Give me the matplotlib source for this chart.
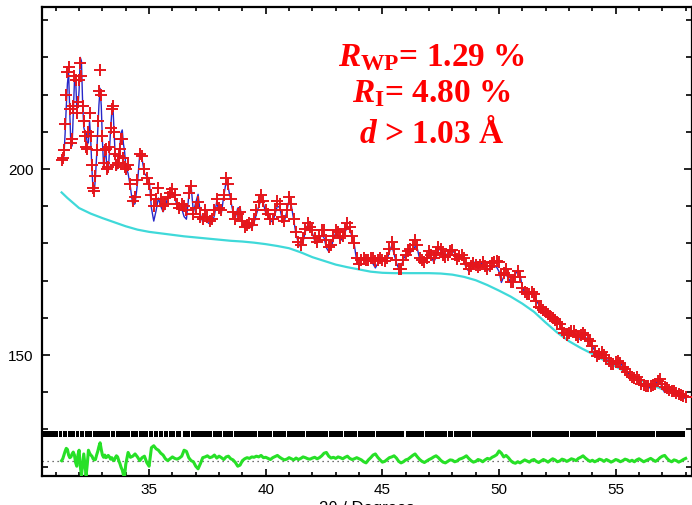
import numpy as np
import matplotlib
matplotlib.use("Agg")
import matplotlib.pyplot as plt
from matplotlib.ticker import MultipleLocator

plt.rcParams["font.family"] = ["Liberation Sans", "DejaVu Sans"]
plt.rcParams["mathtext.fontset"] = "custom"
plt.rcParams["mathtext.rm"] = "Liberation Serif:bold"
plt.rcParams["mathtext.bf"] = "Liberation Serif:bold"
plt.rcParams["mathtext.it"] = "Liberation Serif:italic:bold"

# --- scan grid (fine steps over the sharp low-angle peaks) ---
two_theta = np.concatenate([np.linspace(31.25, 33.95, 55),
                            np.linspace(34.0, 58.0, 241)])

# observed counts
y_obs = [
    202.5, 203, 205, 212, 220, 226, 227.5, 216, 207, 208,
    217, 225, 224, 215, 218, 224, 228.5, 225, 217, 213,
    209, 206, 205.5, 210, 215, 209, 201, 195, 194, 198,
    205, 213, 221, 226.5, 220, 209, 201.5, 205, 205.5, 200,
    200.5, 206, 211, 216, 217, 210, 204, 201, 201.5, 203.5,
    205.5, 208, 208, 203, 200.5,
    # 34.0 - 58.0
    200, 201, 196, 191.5, 192.5, 197, 204, 203.5, 200, 197.5,
    196, 193, 190, 192, 195, 192, 190, 190.5, 192.5, 193.5,
    194.5, 193, 190.5, 189.5, 190.5, 190, 189, 193.5, 195.5, 188,
    189.5, 191, 187, 186.5, 189, 187, 186, 186.5, 189, 192,
    189.5, 189, 193, 197.5, 196, 192, 188.5, 186.5, 188, 188.5,
    186, 184.5, 185, 185.5, 185, 186.5, 189, 191, 193, 191.5,
    189, 188, 186.5, 186.5, 189, 191.5, 190.5, 187, 186, 189,
    192.5, 190.5, 186.5, 183, 180.5, 179.5, 181.5, 184, 185.5, 184.5,
    183.5, 181.5, 180.5, 182, 183.5, 183.5, 181, 179, 179.5, 182,
    183.5, 183, 181.5, 182, 184, 185.5, 184.5, 182, 180, 176,
    174.5, 175.5, 176, 175.5, 175.5, 176, 176, 175.2, 175.5, 176.2,
    175.5, 175.2, 176, 178.5, 180.5, 178.5, 175.5, 173, 173, 175.5,
    177, 178, 178.5, 179.5, 181, 179.5, 176, 175.5, 175, 176,
    178, 177, 176, 177.5, 179, 178.5, 177, 176.3, 177, 178,
    178.3, 177, 175.8, 176.5, 177, 176, 174.5, 173.2, 174, 174.8,
    174.2, 173.6, 174.2, 174.9, 174, 173.2, 173.8, 174.6, 175, 175.2,
    175, 171.5, 172, 173, 171.5, 169.5, 169.5, 171, 172.5, 171,
    168, 167, 166.3, 166.5, 167, 166.5, 164.5, 163, 162.5, 162,
    161.5, 161, 160.5, 160, 159.5, 158.8, 158.2, 157, 155.8, 155.3,
    155.8, 156.5, 156.5, 155.5, 154.8, 155.3, 156, 155.5, 154.3, 153.7,
    152.5, 150.8, 149.8, 150.2, 150.7, 150, 149.2, 148.3, 147.6, 147.5,
    148, 148.5, 147.8, 146.8, 146.2, 145.5, 144.6, 144, 143.9, 144.1,
    143.2, 142.3, 142, 141.7, 141.6, 141.7, 141.9, 142.3, 143, 143.5,
    142.3, 141.3, 141, 140.6, 140.4, 140.2, 139.9, 139.6, 139.3, 139,
    138.8,
]

# difference (observed - calculated)
y_diff = [
    0, 0.5, 1.5, 2.5, 3.3, 3.0, 1.5, 0.8, 1.0, 1.8,
    2.3, 1.5, -0.5, -1.5, 1.5, 2.8, -1.5, -4.0, -1.0, 1.8,
    -1.0, -4.0, -1.0, 2.8, 2.0, 1.5, 1.2, 0.5, 0.2, 0.3,
    1.5, 2.5, 3.8, 4.8, 3.0, 1.5, 0.9, 1.5, 0.8, 1.0,
    1.4, 1.0, 0.4, 0.8, 0.2, 0.0, 0.8, 1.3, 1.0, 0.0,
    -0.8, -1.8, -2.5, -3.8, -4.2,
    # 34.0 - 58.0
    -1.0, 2.2, 0.9, 1.2, 1.8, 1.0, 0.0, 0.8, 1.2, -0.5,
    -1.5, 3.5, 4.0, 3.2, 2.8, 2.0, 1.5, 0.5, 0.0, 0.5,
    1.0, 0.6, 0.4, 0.7, 1.2, 2.8, 2.5, 0.8, 0.0, -0.3,
    -1.5, -2.2, -0.8, 0.8, 1.0, 1.3, 0.8, 1.0, 1.5, 0.7,
    1.2, 0.8, 0.3, 1.0, 1.2, 0.5, 0.2, -0.5, -1.5, -1.2,
    0.0, 0.5, 0.8, 0.6, 1.0, 0.9, 1.2, 1.0, 1.4, 0.8,
    0.9, 0.6, 0.3, 0.8, 1.1, 1.4, 0.9, 0.5, 0.2, 0.4,
    0.8, 0.5, 0.2, 0.7, 0.3, 0.6, 1.0, 0.8, 0.5, 0.4,
    0.7, 0.9, 0.5, 0.8, 1.3, 2.0, 2.2, 1.2, 0.7, 0.9,
    0.6, 1.0, 0.8, 0.5, 0.9, 1.2, 0.6, 0.3, 0.5, 0.8,
    0.5, 0.2, -0.3, -0.6, 0.2, 0.8, 1.5, 1.8, 0.9, 0.2,
    -0.4, -0.2, 0.3, 0.8, 1.0, 1.3, 0.7, -0.2, -0.6, -0.3,
    0.2, 0.4, 0.9, 1.4, 1.8, 1.0, 0.3, -0.2, -0.5, -0.1,
    0.3, 0.6, 1.0, 1.3, 0.8, 0.1, -0.4, -0.6, -0.2, 0.2,
    0.1, -0.3, -0.1, 0.4, 0.6, 0.9, 1.3, 0.6, 0.0, -0.4,
    -0.2, 0.3, 0.1, -0.3, 0.2, 0.6, 0.4, 0.9, 1.2, 1.6,
    2.6, 2.0, 1.0, 1.4, 0.8, 0.0, -0.5, -0.7, -0.3, -0.6,
    -0.2, 0.2, -0.1, -0.4, 0.1, 0.3, -0.2, -0.5, -0.1, 0.3,
    0.0, -0.4, 0.1, 0.5, 0.2, -0.3, -0.1, 0.4, 0.2, -0.2,
    0.1, 0.5, 0.3, 0.0, 0.6, 0.9, 1.3, 0.7, 0.2, -0.2,
    0.1, -0.3, 0.0, 0.4, 0.2, -0.2, 0.3, 0.0, -0.4, -0.1,
    0.3, 0.1, -0.3, 0.0, 0.4, 0.2, -0.2, 0.1, -0.3, 0.2,
    0.5, 0.1, -0.3, 0.0, 0.3, 0.6, 0.2, -0.2, 0.2, 0.8,
    1.2, 1.4, 0.6, 0.0, -0.3, 0.2, 0.0, -0.4, -0.1, 0.3,
    0.6,
]

# refined background
bkg_two_theta = [31.25, 31.5, 32.0, 32.5, 33.0, 33.5, 34.0, 34.5, 35.0, 35.5,
                 36.0, 36.5, 37.0, 37.5, 38.0, 38.5, 39.0, 39.5, 40.0, 40.5,
                 41.0, 41.5, 42.0, 42.5, 43.0, 43.5, 44.0, 44.5, 45.0, 45.5,
                 46.0, 46.5, 47.0, 47.5, 48.0, 48.5, 49.0, 49.5, 50.0, 50.5,
                 51.0, 51.5, 52.0, 52.5, 53.0, 53.5, 54.0, 54.5, 55.0, 55.5,
                 56.0, 56.5, 57.0, 57.5, 58.0]
bkg_counts = [193.7, 192.2, 189.5, 188.0, 186.8, 185.7, 184.6, 183.7, 183.1, 182.7,
              182.3, 181.9, 181.6, 181.3, 181.0, 180.7, 180.5, 180.2, 179.8, 179.3,
              178.7, 177.6, 176.3, 175.3, 174.3, 173.6, 173.0, 172.4, 172.1, 172.0,
              172.0, 172.0, 172.0, 171.9, 171.6, 171.0, 170.1, 168.8, 167.3, 165.7,
              163.8, 161.6, 158.7, 156.0, 153.7, 151.9, 150.3, 148.6, 146.9, 145.2,
              143.4, 142.0, 140.8, 139.8, 138.7]

# Bragg reflection band: full extent and the few open gaps between reflections
refl_start, refl_end = 30.45, 57.97
refl_gaps = [31.10, 31.30, 31.49, 31.84, 32.03, 32.23, 32.56, 33.34, 33.56, 34.20,
             34.56, 34.99, 35.20, 35.42, 35.63, 35.84, 36.13, 36.41, 36.77, 37.70,
             38.13, 38.63, 39.63, 40.27, 40.91, 41.70, 42.70, 43.34, 43.95, 44.70,
             45.97, 46.80, 47.80, 48.04, 48.80, 51.40, 53.04, 54.19, 56.69]

diff_zero = 121.6
refl_low, refl_high = 128.0, 129.7

y_obs = np.array(y_obs)
y_diff = np.array(y_diff)
y_calc = y_obs - y_diff

fig = plt.figure(figsize=(6.92, 5.06), dpi=100)
ax = fig.add_axes([0.0607, 0.0573, 0.9386, 0.9269])

ax.plot(bkg_two_theta, bkg_counts, color="#3fd9d9", lw=1.6, zorder=2)
ax.plot(two_theta, y_calc, color="#2828c8", lw=1.0, zorder=3)
ax.plot(two_theta, y_obs, ls="none", marker="+", ms=9, mew=1.4,
        color="#e5161c", zorder=4)

# reflection markers
edges = [refl_start] + refl_gaps + [refl_end]
gap_w = 0.045
segs = []
for i in range(len(edges) - 1):
    a = edges[i] + (gap_w / 2 if i > 0 else 0)
    b = edges[i + 1] - (gap_w / 2 if i + 1 < len(edges) - 1 else 0)
    segs.append((a, b - a))
ax.broken_barh(segs, (refl_low, refl_high - refl_low), facecolors="black", zorder=3)

# difference curve and its zero line
ax.axhline(diff_zero, color="#444444", ls=(0, (1, 3)), lw=0.9, zorder=2)
ax.plot(two_theta, diff_zero + y_diff, color="#27e027", lw=2.2, zorder=3)

ax.set_xlim(30.41, 58.25)
ax.set_ylim(117.47, 243.55)
ax.xaxis.set_major_locator(MultipleLocator(5))
ax.xaxis.set_minor_locator(MultipleLocator(1))
ax.yaxis.set_major_locator(MultipleLocator(50))
ax.yaxis.set_minor_locator(MultipleLocator(10))
ax.tick_params(axis="both", which="both", direction="in", top=True, right=True,
               labelsize=11, width=1.2)
ax.tick_params(axis="x", which="major", length=5, pad=4)
ax.tick_params(axis="x", which="minor", length=3)
ax.tick_params(axis="y", which="major", length=6, pad=6)
ax.tick_params(axis="y", which="minor", length=4)
for sp in ax.spines.values():
    sp.set_linewidth(1.6)

ax.set_xlabel("2θ / Degrees", fontsize=12, labelpad=3)

txt = dict(transform=ax.transAxes, ha="center", va="baseline", color="#ff0000",
           fontsize=24, fontweight="bold", family="Liberation Serif")
ax.text(0.599, 0.875, r"$\mathit{R}_{\mathrm{WP}}$= 1.29 %", **txt)
ax.text(0.599, 0.800, r"$\mathit{R}_{\mathrm{I}}$= 4.80 %", **txt)
ax.text(0.599, 0.7115, r"$\mathit{d}$ > 1.03 Å", **txt)

fig.savefig("out.png", dpi=100)
